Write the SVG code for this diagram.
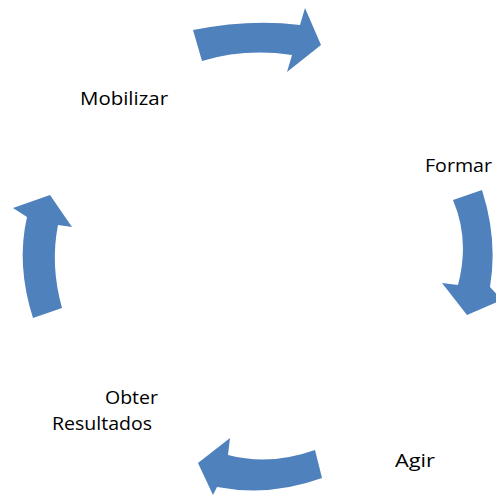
<svg xmlns="http://www.w3.org/2000/svg" width="496" height="498" viewBox="0 0 496 498">
<style>
.arr{fill:#4F81BD;stroke:none}
.lbl{font-family:"Open Sans","Liberation Sans",sans-serif;font-size:19px;fill:#000}
</style>
<rect width="496" height="498" fill="#fff"/>
<g id="connectors">
<path id="arrow-top" class="arr" d="M193,30 Q250,18.5 300,25 L305,8 L321,45 L287,72 L292,55 Q245,48 202,61 Z"/>
<path id="arrow-right" class="arr" d="M482,190 Q498,240 490,287 L502,300 L467,315 L442,283 L458,285 Q470,240 453,200 Z"/>
<path id="arrow-bottom" class="arr" d="M315,450 Q270,466 228,455 L230,438 L198,463 L213,495 L217,487 Q270,497 322,478 Z"/>
<path id="arrow-left" class="arr" d="M33,318 Q16,265 27,217 L13,208 L50,195 L72,227 L58,225 Q50,265 62,308 Z"/>
</g>
<g id="node-mobilizar"><text class="lbl" x="80" y="105" textLength="88" lengthAdjust="spacingAndGlyphs">Mobilizar</text></g>
<g id="node-formar"><text class="lbl" x="425" y="172" textLength="67" lengthAdjust="spacingAndGlyphs">Formar</text></g>
<g id="node-agir"><text class="lbl" x="395" y="467" textLength="40" lengthAdjust="spacingAndGlyphs">Agir</text></g>
<g id="node-obter"><text class="lbl" x="105" y="404" textLength="53" lengthAdjust="spacingAndGlyphs">Obter</text><text class="lbl" x="52" y="430" textLength="100" lengthAdjust="spacingAndGlyphs">Resultados</text></g>
</svg>
